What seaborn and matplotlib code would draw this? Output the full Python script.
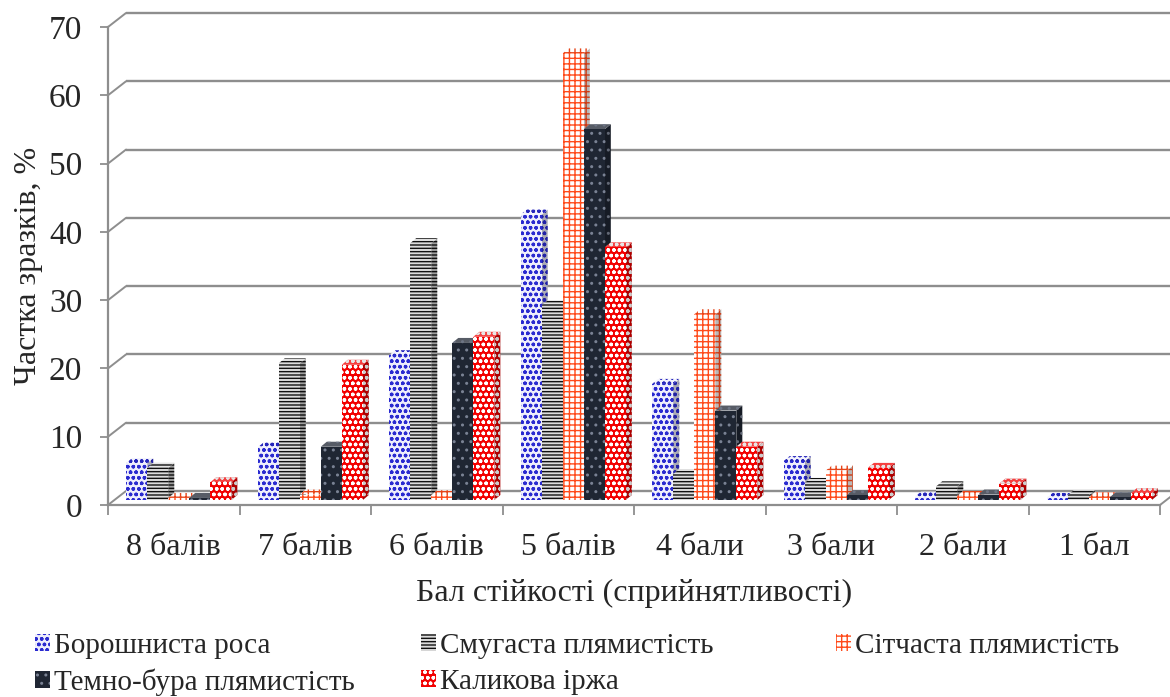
import numpy as np
import pandas as pd
import matplotlib
matplotlib.use("Agg")
import matplotlib.pyplot as plt
import seaborn as sns
from matplotlib.patches import Patch, Polygon
from matplotlib.transforms import ScaledTranslation
from matplotlib.colors import to_rgb

# ---- data -------------------------------------------------------------
categories = ['8 балів', '7 балів', '6 балів', '5 балів',
              '4 бали', '3 бали', '2 бали', '1 бал']
series = ['Борошниста роса', 'Смугаста плямистість', 'Сітчаста плямистість',
          'Темно-бура плямистість', 'Каликова іржа']

powdery_mildew = [5.4, 7.7, 21.2, 41.8, 17.0, 5.7, 0.5, 0.3]
stripe_spot = [4.7, 20.0, 37.6, 28.5, 3.8, 2.5, 2.0, 0.7]
net_blotch = [0.3, 0.8, 0.7, 65.4, 27.2, 4.3, 0.6, 0.4]
tan_spot = [0.3, 7.8, 23.0, 54.3, 13.1, 0.7, 0.8, 0.4]
leaf_rust = [2.6, 19.8, 23.9, 37.0, 7.8, 4.7, 2.4, 1.0]

y_ticks = [0, 10, 20, 30, 40, 50, 60, 70]

values = [powdery_mildew, stripe_spot, net_blotch, tan_spot, leaf_rust]

# fill colour, hatch pattern, hatch colour for each series
face_colors = ['#eeeefc', '#dcdcdc', '#ffffff', '#1f2633', '#f20000']
hatches = ['ooo', '-----', '+++', '..', 'ooo']
hatch_colors = ['#2a2ad0', '#111111', '#ff4a1a', '#7a8294', '#ffffff']

df = pd.DataFrame({
    'category': np.repeat([categories], len(series), axis=0).ravel(),
    'series': np.repeat(series, len(categories)),
    'value': np.concatenate(values),
})

# ---- style ------------------------------------------------------------
sns.set_style('white')
plt.rcParams['font.family'] = ['Liberation Serif', 'DejaVu Serif']
plt.rcParams['hatch.linewidth'] = 1.0
GRID = '#8e8e8e'
FS = 23
FS_LEG = 21

W, H, DPI = 1170, 697, 100
fig = plt.figure(figsize=(W / DPI, H / DPI), dpi=DPI)
fig.patch.set_facecolor('white')
# front plane of the 3-D box
ax = fig.add_axes([108 / W, (H - 505) / H, 1052 / W, 478 / H])
ax.set_facecolor('none')

sns.barplot(data=df, x='category', y='value', hue='series',
            order=categories, hue_order=series,
            palette=face_colors, saturation=1, width=0.8,
            legend=False, ax=ax)

ax.set_xlim(-0.5, 7.5)
ax.set_ylim(0, 70)

# pixel size of one data unit
p0 = ax.transData.transform((0, 0))
p1 = ax.transData.transform((1, 1))
ux, uy = p1 - p0

# depth offsets (pixels): bar plane, bar thickness, back wall
bar_shift = ScaledTranslation(5 / DPI, 5 / DPI, fig.dpi_scale_trans)
back_shift = ScaledTranslation(18 / DPI, 14 / DPI, fig.dpi_scale_trans)
bar_trans = ax.transData + bar_shift
back_trans = ax.transData + back_shift
ddx, ddy = 6 / ux, 5 / uy
bdx, bdy = 18 / ux, 14 / uy


def shade(c, k):
    r, g, b = to_rgb(c)
    if k < 1:
        return (r * k, g * k, b * k)
    return (r + (1 - r) * (k - 1), g + (1 - g) * (k - 1), b + (1 - b) * (k - 1))


# ---- 3-D columns --------------------------------------------------------
for i, cont in enumerate(ax.containers):
    fc, hp, hc = face_colors[i], hatches[i], hatch_colors[i]
    for bar in cont:
        x, w, h = bar.get_x(), bar.get_width(), bar.get_height()
        z = 2 + (x + 0.5) * 0.04
        bar.set_transform(bar_trans)
        bar.set_facecolor(fc)
        bar.set_edgecolor(hc)
        bar.set_hatch(hp)
        bar.set_linewidth(0)
        bar.set_zorder(z)
        side = Polygon([(x + w, 0), (x + w + ddx, ddy), (x + w + ddx, h + ddy), (x + w, h)],
                       closed=True, transform=bar_trans, facecolor=shade(fc, 0.72),
                       edgecolor=shade(hc, 0.8), hatch=hp, linewidth=0, zorder=z - 0.001)
        top = Polygon([(x, h), (x + w, h), (x + w + ddx, h + ddy), (x + ddx, h + ddy)],
                      closed=True, transform=bar_trans, facecolor=shade(fc, 1.25),
                      edgecolor=shade(hc, 0.9), hatch=hp, linewidth=0, zorder=z - 0.001)
        ax.add_patch(side)
        ax.add_patch(top)

# ---- back wall gridlines and floor --------------------------------------
for v in y_ticks:
    ax.plot([-0.5, 7.7], [v, v], transform=back_trans, color=GRID, lw=1.7,
            clip_on=False, zorder=0.5, solid_capstyle='butt')
    ax.plot([-0.5, -0.5 + bdx], [v, v + bdy], color=GRID, lw=1.4,
            clip_on=False, zorder=0.5)
ax.plot([7.5, 7.5 + bdx], [0, bdy], color=GRID, lw=1.4, clip_on=False, zorder=0.5)

# ---- axes ----------------------------------------------------------------
for s in ['top', 'right']:
    ax.spines[s].set_visible(False)
for s in ['left', 'bottom']:
    ax.spines[s].set_color(GRID)
    ax.spines[s].set_linewidth(1.6)

ax.set_yticks(y_ticks)
ax.set_yticklabels([str(t) for t in y_ticks])
ax.set_xticks(range(len(categories)))
ax.set_xticklabels(categories)
ax.set_xticks(np.arange(-0.5, len(categories), 1.0), minor=True)
ax.tick_params(axis='y', length=5.5, width=1.3, color=GRID, pad=13,
               labelsize=FS + 1, direction='out', left=True)
ax.tick_params(axis='x', which='major', length=0, pad=20, labelsize=FS)
ax.tick_params(axis='x', which='minor', length=7, width=1.3, color=GRID,
               direction='out', bottom=True)

ax.set_xlabel('Бал стійкості (сприйнятливості)', fontsize=FS, labelpad=12)
ax.set_ylabel('Частка зразків, %', fontsize=FS, labelpad=4)
ax.grid(False)

# ---- legend in three columns --------------------------------------------
handles = [Patch(facecolor=face_colors[i], edgecolor=hatch_colors[i],
                 hatch=hatches[i], linewidth=0) for i in range(len(series))]
columns = [([0, 3], 35), ([1, 4], 421), ([2], 836)]
for idx, x0 in columns:
    fig.legend([handles[k] for k in idx], [series[k] for k in idx],
               loc='upper left', bbox_to_anchor=(x0 / W, 1 - 633 / H),
               frameon=False, fontsize=FS_LEG, handlelength=0.5, handleheight=0.5,
               handletextpad=0.15, labelspacing=0.33, borderpad=0, borderaxespad=0)

fig.savefig('out.png', dpi=DPI, facecolor='white')
